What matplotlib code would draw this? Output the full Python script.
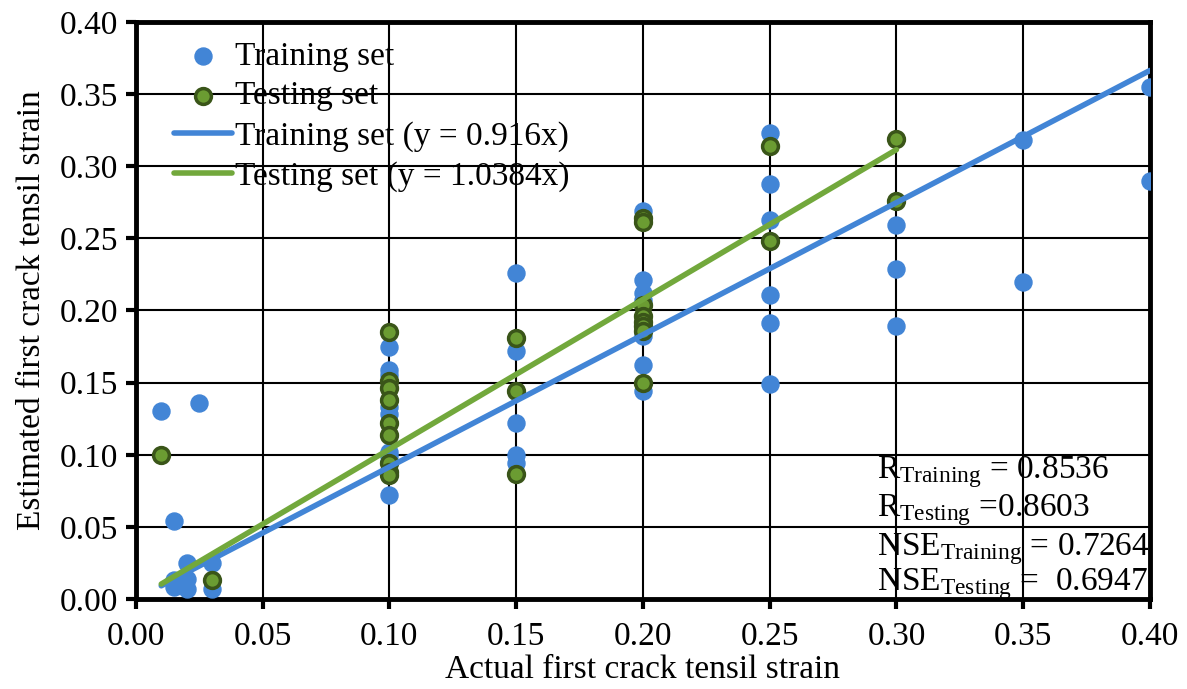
import matplotlib
matplotlib.use("Agg")
import matplotlib.pyplot as plt
import numpy as np

# data
train_x = [0.01, 0.025, 0.015, 0.015, 0.015, 0.02, 0.02, 0.02, 0.03, 0.03,
           0.10, 0.10, 0.10, 0.10, 0.10, 0.10, 0.10, 0.10, 0.10,
           0.15, 0.15, 0.15, 0.15, 0.15,
           0.20, 0.20, 0.20, 0.20, 0.20, 0.20, 0.20,
           0.25, 0.25, 0.25, 0.25, 0.25, 0.25,
           0.30, 0.30, 0.30,
           0.35, 0.35, 0.40, 0.40]
train_y = [0.130, 0.136, 0.054, 0.013, 0.008, 0.025, 0.014, 0.007, 0.025, 0.007,
           0.175, 0.159, 0.155, 0.133, 0.128, 0.102, 0.099, 0.095, 0.072,
           0.226, 0.172, 0.122, 0.100, 0.094,
           0.269, 0.221, 0.212, 0.207, 0.182, 0.162, 0.144,
           0.323, 0.288, 0.263, 0.211, 0.191, 0.149,
           0.259, 0.229, 0.189,
           0.318, 0.220, 0.355, 0.290]
test_x = [0.01, 0.03,
          0.10, 0.10, 0.10, 0.10, 0.10, 0.10, 0.10, 0.10, 0.10,
          0.15, 0.15, 0.15,
          0.20, 0.20, 0.20, 0.20, 0.20, 0.20, 0.20, 0.20,
          0.25, 0.25, 0.30, 0.30]
test_y = [0.100, 0.013,
          0.185, 0.151, 0.146, 0.138, 0.122, 0.114, 0.094, 0.088, 0.086,
          0.181, 0.144, 0.087,
          0.264, 0.261, 0.204, 0.196, 0.192, 0.189, 0.186, 0.150,
          0.314, 0.248, 0.319, 0.276]
slope_train = 0.916
slope_test = 1.0384
fit_train_x = [0.01, 0.40]
fit_test_x = [0.01, 0.30]
stats_text = [r"R$_{\mathrm{Training}}$ = 0.8536",
              r"R$_{\mathrm{Testing}}$ =0.8603",
              r"NSE$_{\mathrm{Training}}$ = 0.7264",
              r"NSE$_{\mathrm{Testing}}$ =  0.6947"]
stats_y = [0.084, 0.0575, 0.0305, 0.006]

plt.rcParams['font.family'] = 'Liberation Serif'
plt.rcParams['mathtext.fontset'] = 'custom'
plt.rcParams['mathtext.rm'] = 'Liberation Serif'
plt.rcParams['mathtext.it'] = 'Liberation Serif:italic'

blue = '#4285D6'
green_fill = '#6B9C32'
green_edge = '#3A5519'
green_line = '#72A83C'

fig = plt.figure(figsize=(11.87, 6.89), dpi=100)
ax = fig.add_axes([0.1145, 0.1306, 0.8543, 0.8375])

ax.scatter(train_x, train_y, s=150, color=blue, zorder=3, label='Training set')
ax.scatter(test_x, test_y, s=130, color=green_fill, edgecolors=green_edge,
           linewidths=2.5, zorder=4, label='Testing set')
ax.plot(fit_train_x, slope_train * np.array(fit_train_x), color=blue, lw=4,
        solid_capstyle='round', zorder=5, label='Training set (y = 0.916x)')
ax.plot(fit_test_x, slope_test * np.array(fit_test_x), color=green_line, lw=4,
        solid_capstyle='round', zorder=5, label='Testing set (y = 1.0384x)')

ax.set_xlim(0, 0.40)
ax.set_ylim(0, 0.40)
ticks = np.arange(0, 0.401, 0.05)
ax.set_xticks(ticks)
ax.set_yticks(ticks)
ax.set_xticklabels([f"{v:.2f}" for v in ticks])
ax.set_yticklabels([f"{v:.2f}" for v in ticks])
ax.grid(True, color='black', lw=1.5, zorder=0)
ax.set_axisbelow(True)
for sp in ax.spines.values():
    sp.set_linewidth(3.5)
ax.tick_params(labelsize=24, width=3, length=7, direction='out', pad=6)
ax.tick_params(axis='x', pad=9)

ax.set_xlabel('Actual first crack tensil strain', fontsize=24, labelpad=2)
ax.set_ylabel('Estimated first crack tensil strain', fontsize=24, labelpad=9)

ax.legend(loc='upper left', fontsize=24, frameon=False, handlelength=1.75,
          handletextpad=0.1, labelspacing=0.28, borderaxespad=0.0,
          bbox_to_anchor=(0.024, 0.99))

for t, yv in zip(stats_text, stats_y):
    ax.text(0.2925, yv, t, fontsize=24, va='baseline', ha='left', zorder=6)

fig.savefig('out.png', dpi=100)
